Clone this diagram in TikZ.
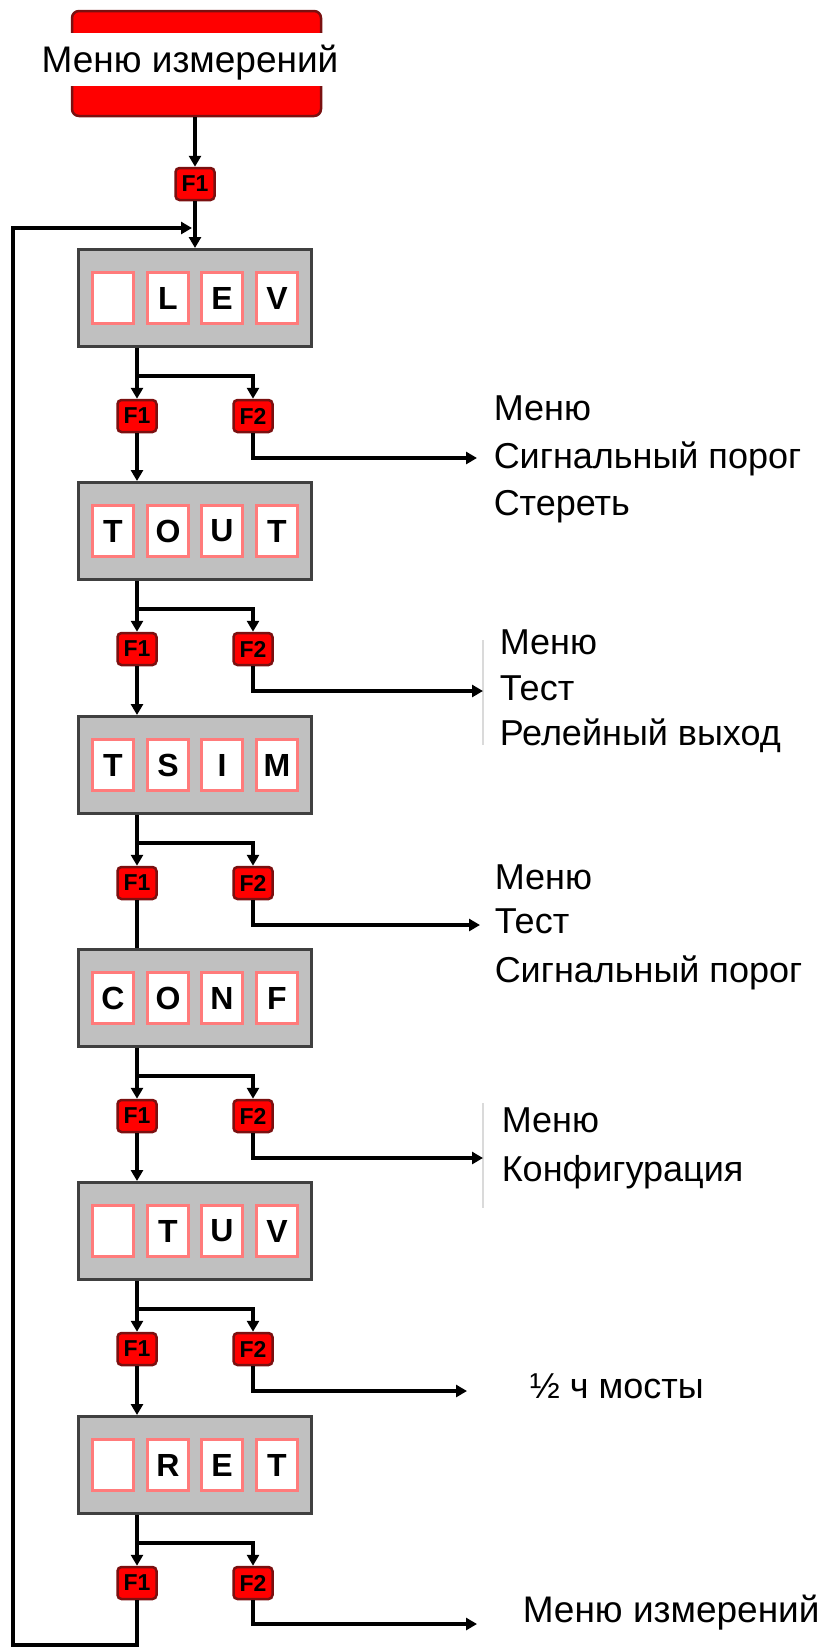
\documentclass[tikz,border=0pt]{standalone}
\usepackage{fontspec}
\setmainfont{Liberation Sans}
\usetikzlibrary{arrows.meta}
\definecolor{keyred}{HTML}{FF0000}
\definecolor{keyrim}{HTML}{7A1010}
\definecolor{panelgray}{HTML}{C0C0C0}
\definecolor{panelrim}{HTML}{404040}
\definecolor{cellrim}{HTML}{FF7B7B}
\definecolor{bargray}{HTML}{DADADA}

\begin{document}
\begin{tikzpicture}[x=1pt, y=-1pt, line width=3.5pt, >={Triangle[length=11pt,width=12pt]}]
        \useasboundingbox (0,0) rectangle (820,1647);
        \tikzstyle{menubox}=[rectangle, rounded corners=7pt, fill=keyred, draw=keyrim, line width=2.5pt, minimum width=249pt, minimum height=105pt, inner sep=0pt]
        \tikzstyle{menutext}=[fill=white, inner sep=0pt, minimum width=293pt, minimum height=53pt, text height=26pt, text depth=0pt, font=\fontsize{37}{37}\selectfont]
        \tikzstyle{panel}=[rectangle, fill=panelgray, draw=panelrim, line width=3pt, minimum width=233pt, minimum height=97pt, inner sep=0pt]
        \tikzstyle{cell}=[rectangle, fill=white, draw=cellrim, line width=3pt, minimum width=41pt, minimum height=51pt, inner sep=0pt, font=\fontsize{32}{32}\selectfont\bfseries]
        \tikzstyle{key}=[rectangle, rounded corners=4pt, fill=keyred, draw=keyrim, line width=2.5pt, minimum width=39pt, minimum height=32pt, inner sep=0pt, font=\fontsize{23}{23}\selectfont\bfseries]
        \tikzstyle{lbl}=[anchor=west, inner sep=0pt, text height=25pt, text depth=0pt, font=\fontsize{36}{36}\selectfont]
        \tikzstyle{bar}=[draw=bargray, line width=2pt]

        \node[menubox] (menu) at (196.5,63.5) {};
        \node[menutext] (mtxt) at (190,59.5) {Меню измерений};
        \node[key] (k0) at (195,184) {F1};

        % LEV
        \node[panel] (lev) at (195,298) {};
        \node[cell] (lev-a) at (113,298) {};
        \node[cell] (lev-b) at (168,298) {L};
        \node[cell] (lev-c) at (222,298) {E};
        \node[cell] (lev-d) at (277,298) {V};
        \node[key] (lev1) at (137,416) {F1};
        \node[key] (lev2) at (253,416) {F2};

        % TOUT
        \node[panel] (tout) at (195,531) {};
        \node[cell] (tout-a) at (113,531) {T};
        \node[cell] (tout-b) at (168,531) {O};
        \node[cell] (tout-c) at (222,531) {U};
        \node[cell] (tout-d) at (277,531) {T};
        \node[key] (tout1) at (137,649) {F1};
        \node[key] (tout2) at (253,649) {F2};

        % TSIM
        \node[panel] (tsim) at (195,765) {};
        \node[cell] (tsim-a) at (113,765) {T};
        \node[cell] (tsim-b) at (168,765) {S};
        \node[cell] (tsim-c) at (222,765) {I};
        \node[cell] (tsim-d) at (277,765) {M};
        \node[key] (tsim1) at (137,883) {F1};
        \node[key] (tsim2) at (253,883) {F2};

        % CONF
        \node[panel] (conf) at (195,998) {};
        \node[cell] (conf-a) at (113,998) {C};
        \node[cell] (conf-b) at (168,998) {O};
        \node[cell] (conf-c) at (222,998) {N};
        \node[cell] (conf-d) at (277,998) {F};
        \node[key] (conf1) at (137,1116) {F1};
        \node[key] (conf2) at (253,1116) {F2};

        % TUV
        \node[panel] (tuv) at (195,1231) {};
        \node[cell] (tuv-a) at (113,1231) {};
        \node[cell] (tuv-b) at (168,1231) {T};
        \node[cell] (tuv-c) at (222,1231) {U};
        \node[cell] (tuv-d) at (277,1231) {V};
        \node[key] (tuv1) at (137,1349) {F1};
        \node[key] (tuv2) at (253,1349) {F2};

        % RET
        \node[panel] (ret) at (195,1465) {};
        \node[cell] (ret-a) at (113,1465) {};
        \node[cell] (ret-b) at (168,1465) {R};
        \node[cell] (ret-c) at (222,1465) {E};
        \node[cell] (ret-d) at (277,1465) {T};
        \node[key] (ret1) at (137,1583) {F1};
        \node[key] (ret2) at (253,1583) {F2};

        % texts on the right
        \node[lbl] (t1a) at (492,408) {Меню};
        \node[lbl] (t1b) at (492,456) {Сигнальный порог};
        \node[lbl] (t1c) at (492,503) {Стереть};

        \node[lbl] (t2a) at (498,642) {Меню};
        \node[lbl] (t2b) at (498,688) {Тест};
        \node[lbl] (t2c) at (498,733) {Релейный выход};

        \node[lbl] (t3a) at (493,877) {Меню};
        \node[lbl] (t3b) at (493,921) {Тест};
        \node[lbl] (t3c) at (493,970) {Сигнальный порог};

        \node[lbl] (t4a) at (500,1120) {Меню};
        \node[lbl] (t4b) at (500,1169) {Конфигурация};

        \node[lbl] (t5) at (528,1386) {½ ч мосты};

        \node[lbl, text height=26pt, font=\fontsize{37}{37}\selectfont] (t6) at (521,1609) {Меню измерений};

        \draw[bar] (483,640) -- (483,745);
        \draw[bar] (483,1103) -- (483,1208);

        % branch points and arrow ends
        \coordinate (b1) at (137,376);
        \coordinate (b2) at (137,609);
        \coordinate (b3) at (137,843);
        \coordinate (b4) at (137,1076);
        \coordinate (b5) at (137,1309);
        \coordinate (b6) at (137,1543);
        \coordinate (o1) at (477,458);
        \coordinate (o2) at (483,691);
        \coordinate (o3) at (480,925);
        \coordinate (o4) at (483,1158);
        \coordinate (o5) at (467,1391);
        \coordinate (o6) at (477,1624);
        \coordinate (lpb) at (13,1645);
        \coordinate (lpe) at (192,228);

        \path [->] (menu.south -| k0) edge (k0.north);
        \path [->] (k0.south) edge (lev.north);

        \path [->] (lev.south -| lev1) edge (lev1.north);
        \draw [->] (b1) -| (lev2.north);
        \draw [->] (lev2.south) |- (o1);
        \path [->] (lev1.south) edge (tout.north -| lev1);

        \path [->] (tout.south -| tout1) edge (tout1.north);
        \draw [->] (b2) -| (tout2.north);
        \draw [->] (tout2.south) |- (o2);
        \path [->] (tout1.south) edge (tsim.north -| tout1);

        \path [->] (tsim.south -| tsim1) edge (tsim1.north);
        \draw [->] (b3) -| (tsim2.north);
        \draw [->] (tsim2.south) |- (o3);
        \draw (tsim1.south) -- (conf.north -| tsim1);

        \path [->] (conf.south -| conf1) edge (conf1.north);
        \draw [->] (b4) -| (conf2.north);
        \draw [->] (conf2.south) |- (o4);
        \path [->] (conf1.south) edge (tuv.north -| conf1);

        \path [->] (tuv.south -| tuv1) edge (tuv1.north);
        \draw [->] (b5) -| (tuv2.north);
        \draw [->] (tuv2.south) |- (o5);
        \path [->] (tuv1.south) edge (ret.north -| tuv1);

        \path [->] (ret.south -| ret1) edge (ret1.north);
        \draw [->] (b6) -| (ret2.north);
        \draw [->] (ret2.south) |- (o6);

        \draw [->] (ret1.south) |- (lpb) |- (lpe);
    \end{tikzpicture}
\end{document}
